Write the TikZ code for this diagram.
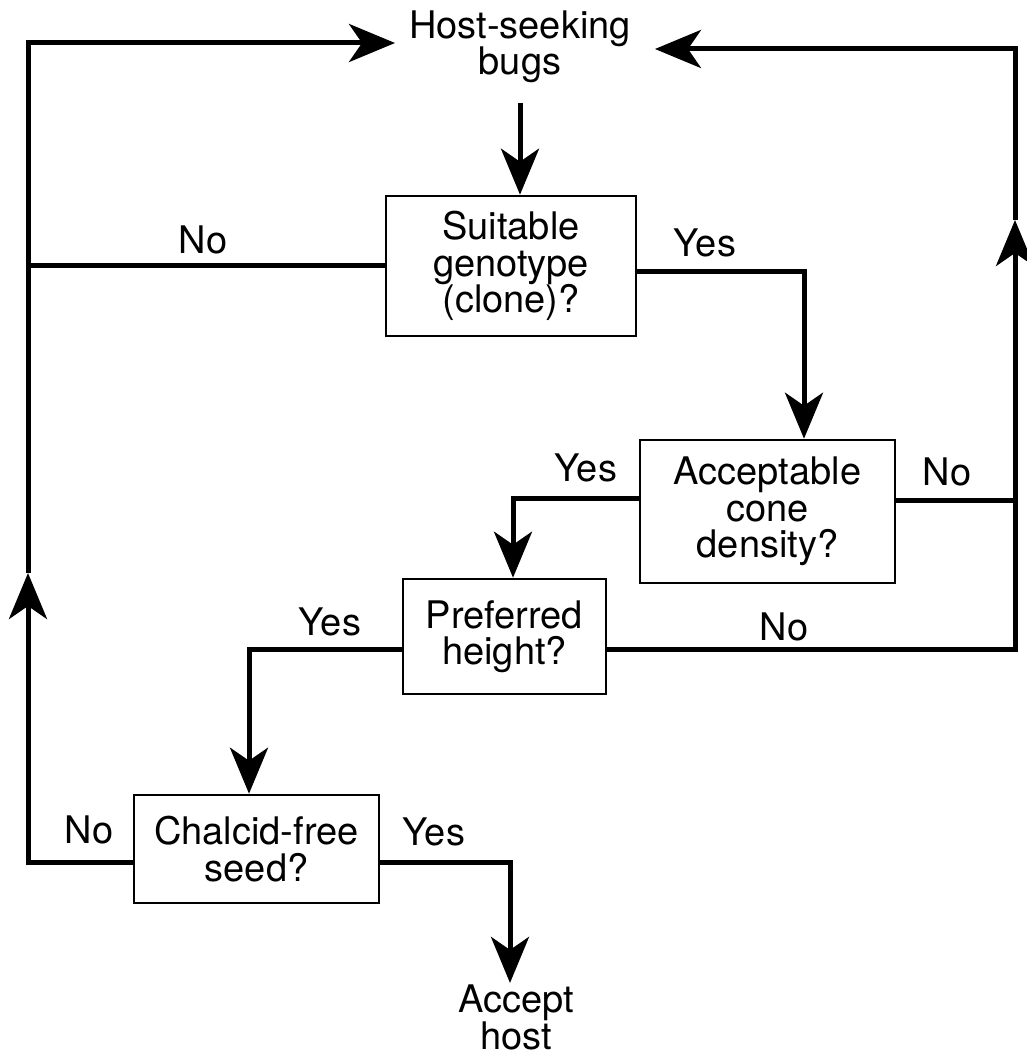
\documentclass[tikz,border=0pt]{standalone}
\usepackage{fontspec}
\setmainfont{TeX Gyre Heros}
\usetikzlibrary{arrows.meta,positioning}

\begin{document}
\begin{tikzpicture}
		[x=1pt, y=-1pt,
		auto,
		every node/.style ={font=\fontsize{38}{36.5}\selectfont},
		block/.style ={rectangle, draw=black, line width=2.6pt, align=center, inner sep=0pt},
		line/.style ={draw, line width=5pt, -{Stealth[length=46pt,width=38pt,inset=13pt]}},
		wire/.style ={draw, line width=5pt},
		term/.style ={align=center, inner sep=2pt},
		lab/.style ={inner sep=0pt},
		]
		\useasboundingbox (0,0) rectangle (1026,1056);

		\draw (520,47) node[term] (H0) {Host-seeking\\bugs};
		\draw (511,266) node[block, minimum width=250pt, minimum height=140pt] (Q1) {Suitable\\genotype\\(clone)?};
		\draw (767.5,511.5) node[block, minimum width=255pt, minimum height=143pt] (Q2) {Acceptable\\cone\\density?};
		\draw (504.5,636.5) node[block, minimum width=203pt, minimum height=115pt] (Q3) {Preferred\\height?};
		\draw (256.5,849) node[block, minimum width=245pt, minimum height=108pt] (Q4) {Chalcid-free\\seed?};
		\draw (516,1017.5) node[term] (A5) {Accept\\host};

		% where the two return loops carry their middle arrows
		\coordinate (LM) at (28,573);
		\coordinate (RM) at (1015,220);

		% main chain
		\draw[line, shorten <=18pt] (H0) -- (H0 |- Q1.north);
		\draw[line] ([yshift=-6pt]Q1.east) -| ([xshift=36.5pt]Q2.north);
		\draw[line] ([yshift=13pt]Q2.west) -| ([xshift=8.5pt]Q3.north);
		\draw[line] ([yshift=-13pt]Q3.west) -| ([xshift=-7.5pt]Q4.north);
		\draw[line] ([yshift=-13pt]Q4.east) -| ([xshift=-6pt]A5.north);

		% back to the start, left side
		\draw[line] ([yshift=-13pt]Q4.west) -| (LM);
		\draw[line, shorten >=12pt] (LM) |- ([yshift=4pt]H0.west);
		\draw[wire] (Q1.west) -- (Q1.west -| LM);

		% back to the start, right side
		\draw[line] ([yshift=-13pt]Q3.east) -| (RM);
		\draw[line, shorten >=22pt] (RM) |- ([yshift=-2pt]H0.east);
		\draw[wire] ([yshift=11pt]Q2.east) -- ([yshift=11pt]Q2.east -| RM);

		\draw (203,240) node[lab] (N1) {No};
		\draw (705,243) node[lab] (Y1) {Yes};
		\draw (586,468) node[lab] (Y2) {Yes};
		\draw (947,472) node[lab] (N2) {No};
		\draw (330,622) node[lab] (Y3) {Yes};
		\draw (784,627) node[lab] (N3) {No};
		\draw (89,830) node[lab] (N4) {No};
		\draw (434,832) node[lab] (Y4) {Yes};

	\end{tikzpicture}
\end{document}
